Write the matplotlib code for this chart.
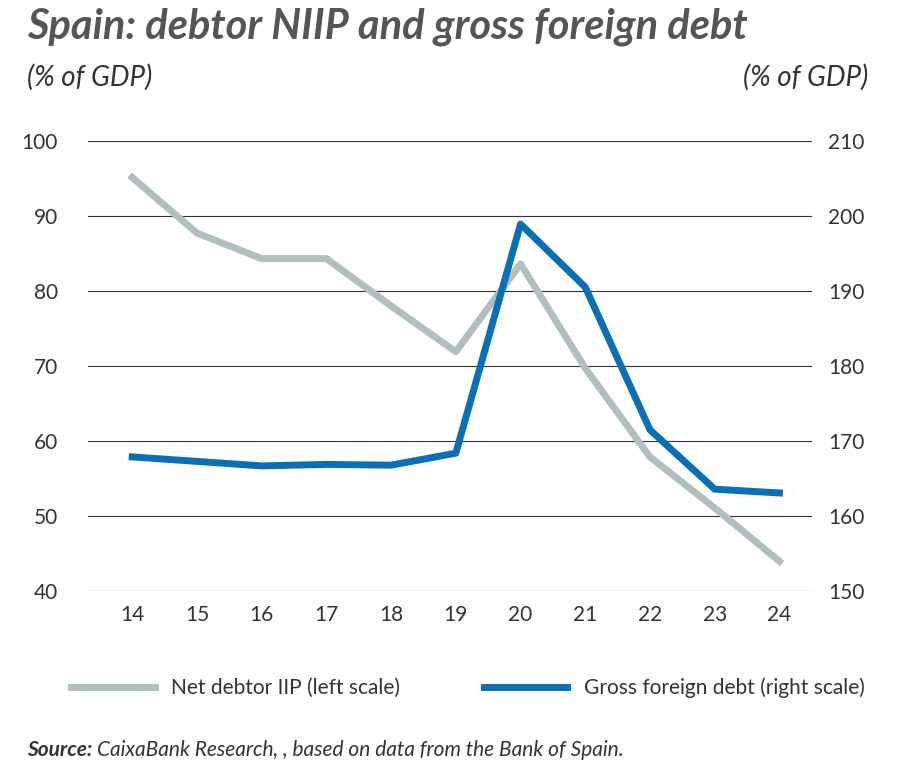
import matplotlib.pyplot as plt

years = ['14', '15', '16', '17', '18', '19', '20', '21', '22', '23', '24']
niip = [95.1, 87.7, 84.3, 84.3, 78.0, 71.9, 83.6, 69.7, 57.9, 51.1, 44.0]
gross_debt = [167.9, 167.3, 166.7, 166.9, 166.8, 168.4, 198.9, 190.5, 171.5, 163.6, 163.1]

plt.rcParams['font.family'] = ['Lato', 'DejaVu Sans']
txt = '#333333'
grey = '#b2bfc0'
blue = '#0a6fb5'

fig = plt.figure(figsize=(9, 7.73), dpi=100)
ax = fig.add_axes([0.098, 0.235, 0.804, 0.583])
ax2 = ax.twinx()

x = range(len(years))
ax.plot(x, niip, color=grey, lw=5, label='Net debtor IIP (left scale)')
ax2.plot(x, gross_debt, color=blue, lw=5, label='Gross foreign debt (right scale)')

ax.set_ylim(40, 100)
ax2.set_ylim(150, 210)
ax.set_yticks(range(40, 101, 10))
ax2.set_yticks(range(150, 211, 10))
ax.set_xlim(-0.68, 10.5)
ax.set_xticks(list(x))
ax.set_xticklabels(years)
ax.grid(axis='y', color='#333333', lw=0.8)
ax.set_axisbelow(True)
for a in (ax, ax2):
    for s in a.spines.values():
        s.set_visible(False)
    a.tick_params(length=0, labelsize=15, colors=txt, pad=10)
ax.tick_params(axis='y', pad=22)
ax2.tick_params(axis='y', pad=12)

fig.text(0.03, 0.965, 'Spain: debtor NIIP and gross foreign debt', fontsize=30,
         fontweight='bold', fontstyle='italic', color='#555555', va='center')
fig.text(0.03, 0.9, '(% of GDP)', fontsize=20, fontstyle='italic', color=txt, va='center')
fig.text(0.965, 0.9, '(% of GDP)', fontsize=20, fontstyle='italic', color=txt, va='center', ha='right')

h1, l1 = ax.get_legend_handles_labels()
h2, l2 = ax2.get_legend_handles_labels()
fig.legend(h1 + h2, l1 + l2, loc='center', bbox_to_anchor=(0.52, 0.11), ncol=2,
           frameon=False, fontsize=15, labelcolor=txt, handlelength=4, columnspacing=4)

src = fig.text(0.03, 0.03, 'Source:', fontsize=15, fontweight='bold', fontstyle='italic',
               color=txt, va='center')
fig.canvas.draw()
bb = src.get_window_extent().transformed(fig.transFigure.inverted())
fig.text(bb.x1 + 0.005, 0.03, 'CaixaBank Research, , based on data from the Bank of Spain.',
         fontsize=15, fontstyle='italic', color=txt, va='center')

fig.savefig('out.png', dpi=100)
